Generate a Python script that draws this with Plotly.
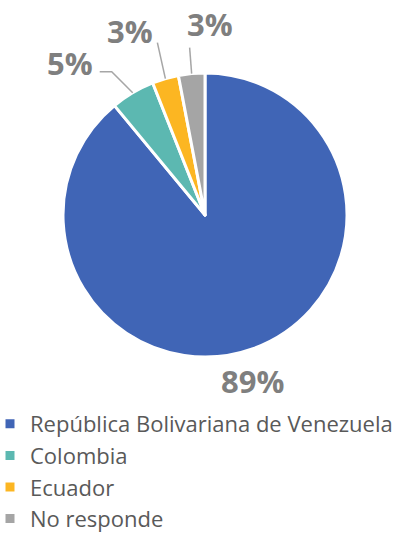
import math
import plotly.graph_objects as go

categories = ["República Bolivariana de Venezuela", "Colombia", "Ecuador", "No responde"]
values = [89, 5, 3, 3]
colors = ["#4065B6", "#5CB8B1", "#FCB622", "#A5A5A5"]
# label offsets (px, from slice edge anchor) - layout only
label_offsets = [(-1, 32), (-63, -30), (-35, -48), (18, -50)]
# elbow for leader lines (px from anchor); None = no leader line
elbows = [None, [(-21, -21), (-33, -21)], [(-8, -36)], [(-2, -26)]]

W, H = 416, 533
cx, cy, R = 205, 215, 142

def px(x, y):
    return x / W, 1 - y / H

fig = go.Figure(go.Pie(
    labels=categories, values=values, sort=False, direction="clockwise", rotation=0,
    marker=dict(colors=colors, line=dict(color="white", width=3)),
    textinfo="none", hoverinfo="label+percent",
    domain=dict(x=[(cx - R) / W, (cx + R) / W], y=[1 - (cy + R) / H, 1 - (cy - R) / H]),
))

total = sum(values)
cum = 0
annotations = []
shapes = []
for v, off, el in zip(values, label_offsets, elbows):
    mid = (cum + v / 2) / total * 2 * math.pi
    cum += v
    ax_ = cx + R * math.sin(mid)
    ay_ = cy - R * math.cos(mid)
    lx, ly = ax_ + off[0], ay_ + off[1]
    pct = round(v / total * 100)
    x, y = px(lx, ly)
    annotations.append(dict(x=x, y=y, xref="paper", yref="paper", text=f"<b>{pct}%</b>",
                            xanchor="center", yanchor="middle",
                            showarrow=False, font=dict(family="Open Sans", size=31, color="#7F7F7F")))
    if el:
        pts = [(ax_, ay_)] + [(ax_ + e[0], ay_ + e[1]) for e in el]
        path = "M " + " L ".join(f"{px(a, b)[0]},{px(a, b)[1]}" for a, b in pts)
        shapes.append(dict(type="path", path=path, xref="paper", yref="paper",
                           line=dict(color="#A6A6A6", width=1.5)))

fig.update_layout(
    width=W, height=H, margin=dict(l=0, r=0, t=0, b=0, autoexpand=False),
    paper_bgcolor="white", plot_bgcolor="white",
    annotations=annotations, shapes=shapes,
    showlegend=True,
    legend=dict(x=-10 / W, y=-7 / H, xanchor="left", yanchor="bottom",
                font=dict(family="Open Sans", size=22, color="#595959"),
                tracegroupgap=0, itemwidth=30),
    font=dict(family="Open Sans"),
)

fig.write_html("out.html", config={"displayModeBar": False},
               post_script="document.body.style.margin='0';document.body.style.overflow='hidden';")
